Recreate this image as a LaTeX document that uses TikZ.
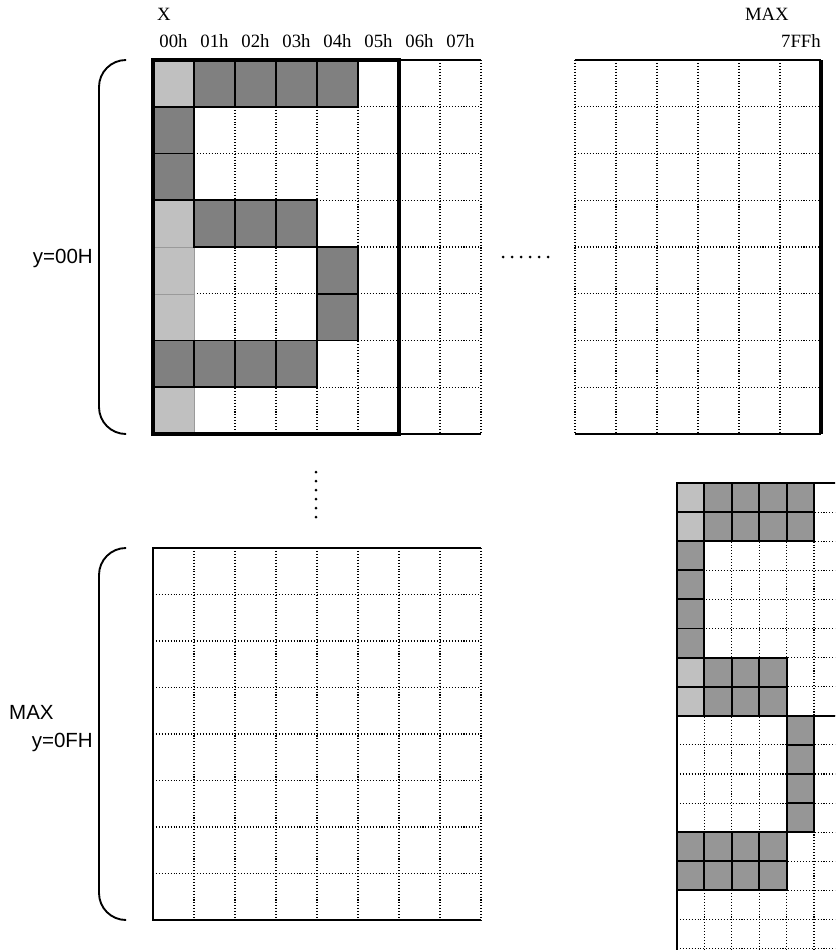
\documentclass[tikz,border=0pt]{standalone}
\usepackage{fontspec}
\setmainfont{Liberation Serif}
\newfontfamily\labsans{Liberation Sans}
\definecolor{lightg}{RGB}{192,192,192}
\definecolor{darkg}{RGB}{128,128,128}
\definecolor{darkgb}{RGB}{150,150,150}
\tikzset{
  dotline/.style={line width=0.9pt, dash pattern=on 0.9pt off 1.6pt},
  frame/.style={line width=1.5pt},
  heavy/.style={line width=2.6pt},
  lightcell/.style={fill=lightg, draw=lightg!80!black, line width=0.4pt},
  darkcell/.style={fill=darkg, draw=black, line width=1.6pt},
  darkcellb/.style={fill=darkgb, draw=black, line width=1.6pt},
  lightcellb/.style={fill=lightg, draw=black, line width=1.6pt},
  seriflab/.style={inner sep=0pt, font=\fontsize{16}{19}\selectfont},
  sanslab/.style={inner sep=0pt, font=\labsans\fontsize{17.5}{21}\selectfont},
  brace/.style={line width=1.6pt, rounded corners=23pt},
  dotmark/.style={fill=black}
}
\begin{document}
\begin{tikzpicture}[x=0.03cm, y=-0.03cm]
\useasboundingbox (0,0) rectangle (835,950);
\fill[white] (0,0) rectangle (835,950);

% ---------- top-left grid ----------
\begin{scope}[shift={(153,60)}, xscale=41, yscale=46.75]
  \foreach \i in {1,...,8} \draw[dotline] (\i,0) -- (\i,8);
  \foreach \j in {1,...,7} \draw[dotline] (0,\j) -- (8,\j);
  \foreach \c/\r in {0/0,0/3,0/4,0/5,0/7}
    \draw[lightcell] (\c,\r) rectangle ++(1,1);
  \foreach \c/\r in {1/0,2/0,3/0,4/0,0/1,0/2,1/3,2/3,3/3,4/4,4/5,0/6,1/6,2/6,3/6}
    \draw[darkcell] (\c,\r) rectangle ++(1,1);
  \draw[frame] (6,0) -- (8,0);
  \draw[frame] (6,8) -- (8,8);
  \draw[heavy] (0,0) rectangle (6,8);
\end{scope}

% ---------- top-right grid ----------
\begin{scope}[shift={(575,60)}, xscale=41, yscale=46.75]
  \foreach \i in {0,...,5} \draw[dotline] (\i,0) -- (\i,8);
  \foreach \j in {1,...,7} \draw[dotline] (0,\j) -- (6,\j);
  \draw[frame] (0,0) -- (6,0);
  \draw[frame] (0,8) -- (6,8);
  \draw[heavy] (6,0) -- (6,8);
\end{scope}

% ---------- bottom-left grid ----------
\begin{scope}[shift={(153,548)}, xscale=41, yscale=46.5]
  \foreach \i in {1,...,8} \draw[dotline] (\i,0) -- (\i,8);
  \foreach \j in {1,...,7} \draw[dotline] (0,\j) -- (8,\j);
  \draw[frame] (8,0) -- (0,0) -- (0,8) -- (8,8);
\end{scope}

% ---------- bottom-right grid ----------
\begin{scope}
  \clip (0,0) rectangle (835,950);
  \begin{scope}[shift={(677,483)}, xscale=27.4, yscale=29.1]
    \foreach \i in {1,...,6} \draw[dotline] (\i,0) -- (\i,17);
    \foreach \j in {1,...,16} \draw[dotline] (0,\j) -- (7,\j);
    \foreach \c/\r in {0/0,0/1,0/6,0/7}
      \draw[lightcellb] (\c,\r) rectangle ++(1,1);
    \foreach \c/\r in {1/0,2/0,3/0,4/0,1/1,2/1,3/1,4/1,0/2,0/3,0/4,0/5,
                       1/6,2/6,3/6,1/7,2/7,3/7,4/8,4/9,4/10,4/11,
                       0/12,1/12,2/12,3/12,0/13,1/13,2/13,3/13}
      \draw[darkcellb] (\c,\r) rectangle ++(1,1);
    \draw[frame] (0,0) -- (7,0);
    \draw[frame] (0,8) -- (7,8);
    \draw[frame] (0,0) -- (0,17);
  \end{scope}
\end{scope}

% ---------- braces ----------
\draw[brace] (126,60) -- (99,60) -- (99,434) -- (126,434);
\draw[brace] (126,548) -- (99,548) -- (99,920) -- (126,920);

% ---------- ellipsis dots ----------
\foreach \k in {0,...,5} \fill[dotmark] ({503+9*\k},257) circle (1.5);
\foreach \k in {0,...,5} \fill[dotmark] (316,{472+9*\k}) circle (1.5);

% ---------- labels ----------
\node[seriflab, anchor=west] (xlab) at (157,14) {X};
\node[seriflab] (c0) at (173.5,41) {00h};
\node[seriflab] (c1) at (214.5,41) {01h};
\node[seriflab] (c2) at (255.5,41) {02h};
\node[seriflab] (c3) at (296.5,41) {03h};
\node[seriflab] (c4) at (337.5,41) {04h};
\node[seriflab] (c5) at (378.5,41) {05h};
\node[seriflab] (c6) at (419.5,41) {06h};
\node[seriflab] (c7) at (460.5,41) {07h};
\node[seriflab, anchor=east] (maxtop) at (789,14) {MAX};
\node[seriflab, anchor=east] (fff) at (821,41) {7FFh};
\node[sanslab, anchor=east] (y00) at (93,258) {y=00H};
\node[sanslab, anchor=west] (maxb) at (9,712) {MAX};
\node[sanslab, anchor=east] (y0f) at (93,742) {y=0FH};
\end{tikzpicture}
\end{document}
